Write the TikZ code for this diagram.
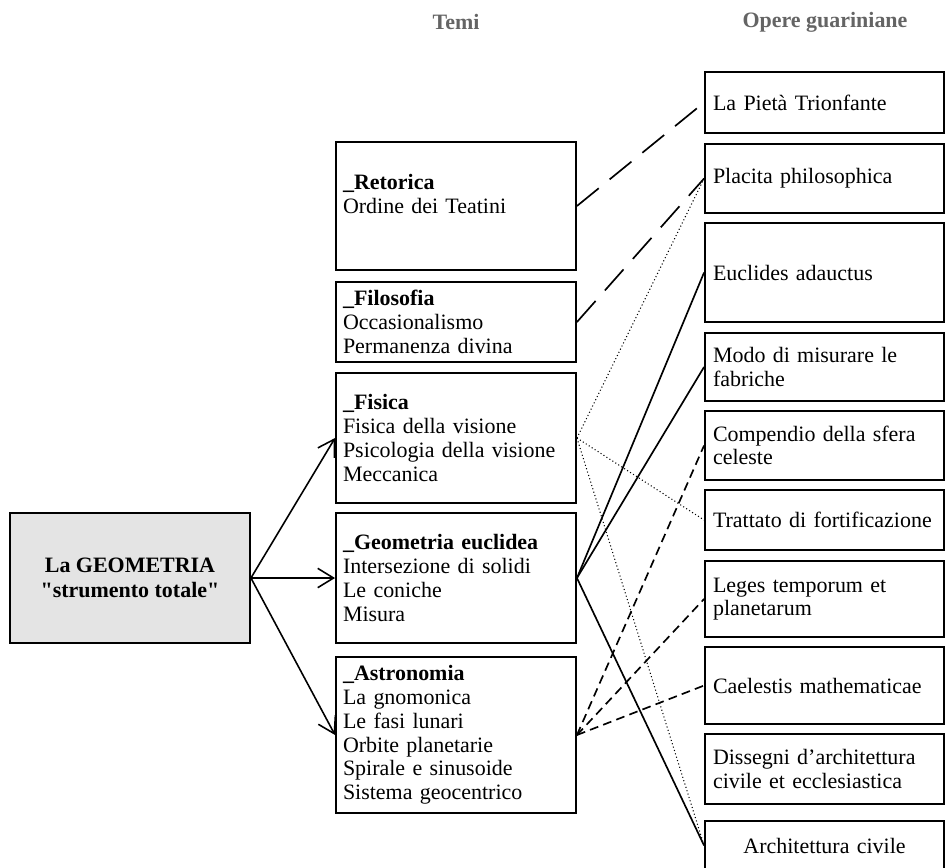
\documentclass[tikz,border=0pt]{standalone}
\usepackage{fontspec}
\setmainfont{Liberation Serif}
\usetikzlibrary{arrows.meta}

\definecolor{BoxGray}{RGB}{228,228,228}
\definecolor{HeadGray}{RGB}{100,100,100}

\begin{document}
\begin{tikzpicture}[x=0.02cm, y=-0.02cm, font=\fontsize{12.5}{13.5}\selectfont]
    \tikzset{ThemeStyle/.style = {draw, line width=1.1pt, minimum width=4.8cm, text width=4.52cm, inner xsep=0.14cm, align=left}}
    \tikzset{WorkStyle/.style = {draw, line width=1.1pt, minimum width=4.78cm, text width=4.46cm, inner xsep=0.16cm, align=left}}
    \tikzset{HeadStyle/.style = {font=\fontsize{12.5}{13.5}\selectfont\bfseries, text=HeadGray}}
    \tikzset{ArrowStyle/.style = {line width=0.9pt, -{Straight Barb[length=9pt, width=11pt]}}}
    \tikzset{EdgeStyle/.style = {line width=0.95pt}}
    \tikzset{LongDashStyle/.style = {line width=0.95pt, dash pattern=on 16pt off 8pt}}
    \tikzset{ShortDashStyle/.style = {line width=0.95pt, dash pattern=on 5pt off 3pt}}
    \tikzset{DotStyle/.style = {line width=0.6pt, dash pattern=on 0.6pt off 1.4pt}}
    \useasboundingbox (0, 0) rectangle (950, 867);
    % headers
    \node[HeadStyle] (temi) at (456, 22) {Temi};
    \node[HeadStyle] (opere) at (825, 22) {Opere guariniane};
    % main box
    \node[draw, fill=BoxGray, line width=1.1pt, minimum width=4.8cm, minimum height=2.6cm, align=center, font=\fontsize{12.5}{14.2}\selectfont\bfseries] (geom) at (130, 578) {La GEOMETRIA\\\textquotedbl strumento totale\textquotedbl};
    % themes
    \node[ThemeStyle, minimum height=2.56cm] (retorica) at (456, 206) {\textbf{\_Retorica}\\Ordine dei Teatini\\ ~};
    \node[ThemeStyle, minimum height=1.6cm] (filosofia) at (456, 322) {\textbf{\_Filosofia}\\Occasionalismo\\Permanenza divina};
    \node[ThemeStyle, minimum height=2.6cm] (fisica) at (456, 438) {\textbf{\_Fisica}\\Fisica della visione\\Psicologia della visione\\Meccanica};
    \node[ThemeStyle, minimum height=2.6cm] (geometria) at (456, 578) {\textbf{\_Geometria euclidea}\\Intersezione di solidi\\Le coniche\\Misura};
    \node[ThemeStyle, minimum height=3.12cm] (astronomia) at (456, 735) {\textbf{\_Astronomia}\\La gnomonica\\Le fasi lunari\\Orbite planetarie\\Spirale e sinusoide\\Sistema geocentrico};
    % works
    \node[WorkStyle, minimum height=1.22cm] (pieta) at (824.5, 102.5) {La Pietà Trionfante};
    \node[WorkStyle, minimum height=1.38cm] (placita) at (824.5, 178.5) {Placita philosophica};
    \node[WorkStyle, minimum height=1.98cm] (euclides) at (824.5, 272.5) {Euclides adauctus};
    \node[WorkStyle, minimum height=1.36cm] (modo) at (824.5, 367) {Modo di misurare le\\fabriche};
    \node[WorkStyle, minimum height=1.38cm] (compendio) at (824.5, 445.5) {Compendio della sfera\\celeste};
    \node[WorkStyle, minimum height=1.2cm] (trattato) at (824.5, 520) {Trattato di fortificazione};
    \node[WorkStyle, minimum height=1.52cm] (leges) at (824.5, 599) {Leges temporum et\\planetarum};
    \node[WorkStyle, minimum height=1.54cm] (caelestis) at (824.5, 685.5) {Caelestis mathematicae};
    \node[WorkStyle, minimum height=1.4cm] (dissegni) at (824.5, 769) {Dissegni d’architettura\\civile et ecclesiastica};
    \node[WorkStyle, minimum height=0.98cm, align=center] (architettura) at (824.5, 845.5) {Architettura civile};
    % arrows
    \draw[ArrowStyle] (geom.east) -- (fisica.west);
    \draw[ArrowStyle] (geom.east) -- (geometria.west);
    \draw[ArrowStyle] (geom.east) -- (astronomia.west);
    % links
    \draw[LongDashStyle] (retorica.east) -- (pieta.west);
    \draw[LongDashStyle] (filosofia.east) -- (placita.west);
    \draw[DotStyle] (fisica.east) -- (placita.west);
    \draw[DotStyle] (fisica.east) -- (trattato.west);
    \draw[DotStyle] (fisica.east) -- (architettura.west);
    \draw[EdgeStyle] (geometria.east) -- (euclides.west);
    \draw[EdgeStyle] (geometria.east) -- (modo.west);
    \draw[EdgeStyle] (geometria.east) -- (architettura.west);
    \draw[ShortDashStyle] (astronomia.east) -- (compendio.west);
    \draw[ShortDashStyle] (astronomia.east) -- (leges.west);
    \draw[ShortDashStyle] (astronomia.east) -- (caelestis.west);
\end{tikzpicture}
\end{document}
